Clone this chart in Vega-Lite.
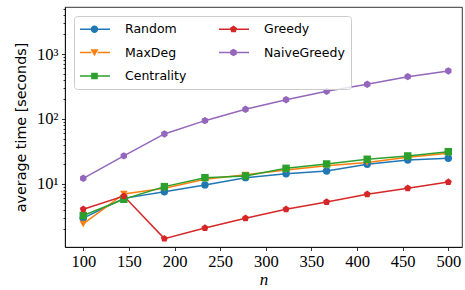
{
  "$schema": "https://vega.github.io/schema/vega-lite/v6.json",
  "width": 397,
  "height": 240,
  "autosize": "none",
  "padding": {"left": 65, "top": 7, "right": 3, "bottom": 43},
  "background": "white",
  "config": {
    "view": {"stroke": "#000", "strokeWidth": 0.8},
    "axis": {"grid": false, "domainColor": "#000", "domainWidth": 0.8, "tickColor": "#000", "tickWidth": 0.8, "labelColor": "#000", "titleColor": "#000"}
  },
  "data": {"values": [
    {"n": 100, "series": "Random", "time": 2.97},
    {"n": 144.44, "series": "Random", "time": 6.0},
    {"n": 188.89, "series": "Random", "time": 7.6},
    {"n": 233.33, "series": "Random", "time": 9.66},
    {"n": 277.78, "series": "Random", "time": 12.5},
    {"n": 322.22, "series": "Random", "time": 14.3},
    {"n": 366.67, "series": "Random", "time": 15.8},
    {"n": 411.11, "series": "Random", "time": 20.1},
    {"n": 455.56, "series": "Random", "time": 23.4},
    {"n": 500, "series": "Random", "time": 24.8},
    {"n": 100, "series": "MaxDeg", "time": 2.42},
    {"n": 144.44, "series": "MaxDeg", "time": 7.0},
    {"n": 188.89, "series": "MaxDeg", "time": 8.6},
    {"n": 233.33, "series": "MaxDeg", "time": 11.8},
    {"n": 277.78, "series": "MaxDeg", "time": 13.8},
    {"n": 322.22, "series": "MaxDeg", "time": 16.4},
    {"n": 366.67, "series": "MaxDeg", "time": 19.1},
    {"n": 411.11, "series": "MaxDeg", "time": 21.3},
    {"n": 455.56, "series": "MaxDeg", "time": 25.7},
    {"n": 500, "series": "MaxDeg", "time": 29.6},
    {"n": 100, "series": "Centrality", "time": 3.26},
    {"n": 144.44, "series": "Centrality", "time": 5.8},
    {"n": 188.89, "series": "Centrality", "time": 9.1},
    {"n": 233.33, "series": "Centrality", "time": 12.5},
    {"n": 277.78, "series": "Centrality", "time": 13.3},
    {"n": 322.22, "series": "Centrality", "time": 17.4},
    {"n": 366.67, "series": "Centrality", "time": 20.3},
    {"n": 411.11, "series": "Centrality", "time": 24.0},
    {"n": 455.56, "series": "Centrality", "time": 27.0},
    {"n": 500, "series": "Centrality", "time": 31.4},
    {"n": 100, "series": "Greedy", "time": 4.08},
    {"n": 144.44, "series": "Greedy", "time": 6.5},
    {"n": 188.89, "series": "Greedy", "time": 1.44},
    {"n": 233.33, "series": "Greedy", "time": 2.1},
    {"n": 277.78, "series": "Greedy", "time": 2.97},
    {"n": 322.22, "series": "Greedy", "time": 4.08},
    {"n": 366.67, "series": "Greedy", "time": 5.28},
    {"n": 411.11, "series": "Greedy", "time": 6.94},
    {"n": 455.56, "series": "Greedy", "time": 8.58},
    {"n": 500, "series": "Greedy", "time": 10.7},
    {"n": 100, "series": "NaiveGreedy", "time": 12.2},
    {"n": 144.44, "series": "NaiveGreedy", "time": 27},
    {"n": 188.89, "series": "NaiveGreedy", "time": 58.8},
    {"n": 233.33, "series": "NaiveGreedy", "time": 94.2},
    {"n": 277.78, "series": "NaiveGreedy", "time": 141},
    {"n": 322.22, "series": "NaiveGreedy", "time": 198},
    {"n": 366.67, "series": "NaiveGreedy", "time": 267},
    {"n": 411.11, "series": "NaiveGreedy", "time": 342},
    {"n": 455.56, "series": "NaiveGreedy", "time": 448},
    {"n": 500, "series": "NaiveGreedy", "time": 548}
  ]},
  "encoding": {
    "x": {
      "field": "n", "type": "quantitative",
      "scale": {"domain": [80, 515], "nice": false, "zero": false},
      "axis": {
        "values": [100, 150, 200, 250, 300, 350, 400, 450, 500],
        "tickSize": 3.5, "labelPadding": 3, "labelFont": "Liberation Serif", "labelFontSize": 16.5,
        "labelFlush": false, "labelOverlap": false,
        "title": "n", "titleFont": "Liberation Serif", "titleFontStyle": "italic", "titleFontWeight": "normal", "titleFontSize": 17, "titlePadding": 1
      }
    }
  },
  "layer": [
    {
      "mark": {"type": "line", "strokeWidth": 1.5},
      "encoding": {
        "y": {
          "field": "time", "type": "quantitative",
          "scale": {"type": "log", "domain": [1.07, 5290], "nice": false},
          "axis": {
            "values": [10, 100, 1000], "tickSize": 3.5, "labelPadding": 3.5,
            "labelFont": "Liberation Serif", "labelFontSize": 16.5,
            "labelExpr": "'10' + (datum.value == 10 ? '¹' : datum.value == 100 ? '²' : '³')",
            "title": "average time [seconds]", "titleFont": "DejaVu Sans", "titleFontSize": 14.3, "titleFontWeight": "normal", "titlePadding": 8
          }
        },
        "color": {
          "field": "series", "type": "nominal",
          "scale": {"domain": ["Random", "MaxDeg", "Centrality", "Greedy", "NaiveGreedy"], "range": ["#1f77b4", "#ff7f0e", "#2ca02c", "#d62728", "#9467bd"]},
          "legend": null
        }
      }
    },
    {
      "mark": {"type": "point", "filled": true, "opacity": 1, "size": 55},
      "encoding": {
        "y": {
          "field": "time", "type": "quantitative",
          "scale": {"type": "log", "domain": [1.07, 5290], "nice": false},
          "axis": {
            "orient": "left",
            "values": [2, 3, 4, 5, 6, 7, 8, 9, 20, 30, 40, 50, 60, 70, 80, 90, 200, 300, 400, 500, 600, 700, 800, 900, 2000, 3000, 4000, 5000],
            "tickSize": 2, "labels": false, "domain": false, "title": null
          }
        },
        "color": {
          "field": "series", "type": "nominal",
          "scale": {"domain": ["Random", "MaxDeg", "Centrality", "Greedy", "NaiveGreedy"], "range": ["#1f77b4", "#ff7f0e", "#2ca02c", "#d62728", "#9467bd"]},
          "legend": null
        },
        "shape": {
          "field": "series", "type": "nominal",
          "scale": {"domain": ["Random", "MaxDeg", "Centrality", "Greedy", "NaiveGreedy"], "range": ["circle", "triangle-down", "square", "M0,-1L0.951,-0.309L0.588,0.809L-0.588,0.809L-0.951,-0.309Z", "M0,-1L0.866,-0.5L0.866,0.5L0,1L-0.866,0.5L-0.866,-0.5Z"]},
          "legend": null
        }
      }
    },
    {
      "mark": {"type": "point", "filled": true, "opacity": 0},
      "encoding": {
        "y": {"field": "time", "type": "quantitative", "scale": {"type": "log", "domain": [1.07, 5290], "nice": false}, "axis": null},
        "color": {
          "field": "series", "type": "nominal",
          "scale": {"domain": ["Random", "MaxDeg", "Centrality", "Greedy", "NaiveGreedy"], "range": ["#1f77b4", "#ff7f0e", "#2ca02c", "#d62728", "#9467bd"]},
          "legend": {
            "orient": "none", "legendX": 9, "legendY": 9, "columns": 2, "title": null,
            "labelFont": "DejaVu Sans", "labelFontSize": 12.5, "labelColor": "#000",
            "symbolSize": 196, "symbolOpacity": 1, "symbolStrokeWidth": 0,
            "fillColor": "rgba(255,255,255,0.8)", "strokeColor": "#cccccc", "cornerRadius": 3,
            "padding": 6, "columnPadding": 32, "rowPadding": 9.5, "labelOffset": 31
          }
        },
        "shape": {
          "field": "series", "type": "nominal",
          "scale": {"domain": ["Random", "MaxDeg", "Centrality", "Greedy", "NaiveGreedy"], "range": [
            "M-1,-0.107H0.62V0.107H-1Z M1.52,-0.107H3.29V0.107H1.52Z M1.6,0A0.53,0.53 0 1,1 0.54,0A0.53,0.53 0 1,1 1.6,0Z",
            "M-1,-0.107H0.62V0.107H-1Z M1.52,-0.107H3.29V0.107H1.52Z M0.5,-0.47L1.64,-0.47L1.07,0.53Z",
            "M-1,-0.107H0.62V0.107H-1Z M1.52,-0.107H3.29V0.107H1.52Z M0.6,-0.47H1.54V0.47H0.6Z",
            "M-1,-0.107H0.62V0.107H-1Z M1.52,-0.107H3.29V0.107H1.52Z M1.07,-0.54L1.584,-0.167L1.388,0.437L0.752,0.437L0.556,-0.167Z",
            "M-1,-0.107H0.62V0.107H-1Z M1.52,-0.107H3.29V0.107H1.52Z M1.07,-0.54L1.538,-0.27L1.538,0.27L1.07,0.54L0.602,0.27L0.602,-0.27Z"
          ]},
          "legend": {
            "orient": "none", "legendX": 9, "legendY": 9, "columns": 2, "title": null,
            "labelFont": "DejaVu Sans", "labelFontSize": 12.5, "labelColor": "#000",
            "symbolSize": 196, "symbolOpacity": 1, "symbolStrokeWidth": 0,
            "fillColor": "rgba(255,255,255,0.8)", "strokeColor": "#cccccc", "cornerRadius": 3,
            "padding": 6, "columnPadding": 32, "rowPadding": 9.5, "labelOffset": 31
          }
        }
      }
    }
  ],
  "resolve": {"scale": {"shape": "independent"}, "axis": {"y": "independent"}, "legend": {"shape": "independent", "color": "independent"}}
}
